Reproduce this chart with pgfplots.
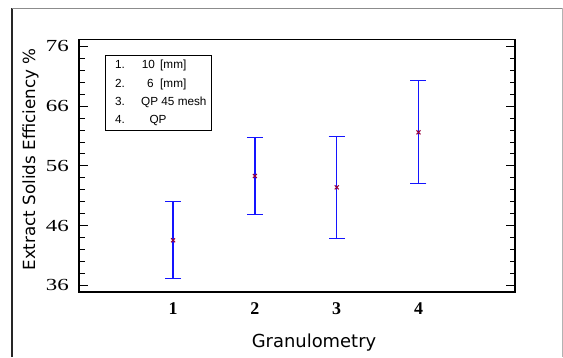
\documentclass[border=0pt]{standalone}
\usepackage{fontspec}
\setmainfont{Liberation Serif}
\newfontfamily\labfont{DejaVu Sans}
\newfontfamily\legfont{Liberation Sans}
\newfontfamily\tickfont{Liberation Serif}
\usepackage{graphicx}
\usepackage{pgfplots}
\pgfplotsset{compat=1.18}
\definecolor{ebblue}{RGB}{20,20,255}
\definecolor{mk}{RGB}{150,0,60}
\begin{document}
\begin{tikzpicture}[x=1bp,y=1bp]
\useasboundingbox (0,0) rectangle (563,357);
% outer frame
\draw[black!85, line width=1.6bp] (11.7,0) -- (11.7,348.7);
\draw[black!45, line width=1.2bp] (11.7,348.7) -- (562,348.7);
\draw[black!30, line width=1bp] (562,348.7) -- (562,0);
\begin{axis}[
  at={(79bp,65bp)}, anchor=south west,
  scale only axis, width=436bp, height=252.3bp,
  xmin=-0.15, xmax=5.18, ymin=34.9, ymax=77.1,
  xtick={1,2,3,4},
  ytick={36,46,56,66,76},
  minor y tick num=4,
  tick align=inside,
  ytick pos=both,
  x tick style={draw=none},
  major tick length=9bp, minor tick length=5.5bp,
  y tick style={black, line width=0.8bp},
  axis line style={black, line width=1.2bp},
  /pgf/number format/assume math mode=true,
  yticklabel={\tickfont\scalebox{1.35}[1]{\tickfont\pgfmathprintnumber{\tick}}},
  yticklabel style={font=\tickfont\fontsize{17}{17}\selectfont, anchor=east, inner sep=0pt, xshift=-10bp},
  xticklabel style={font=\tickfont\fontsize{18}{18}\selectfont\bfseries, anchor=north, inner sep=0pt, yshift=-10bp},
  xlabel={Granulometry},
  ylabel={Extract Solids Efficiency \%},
  xlabel style={font=\labfont\fontsize{18}{18}\selectfont, at={(axis description cs:0.539,-0.218)}, anchor=base, inner sep=0pt},
  ylabel style={font=\labfont\fontsize{16.8}{16.8}\selectfont, at={(axis description cs:-0.111,0.525)}, anchor=center, rotate=0, inner sep=0pt},
  clip=false,
]
\addplot[only marks, mark=x, mark size=2.8bp, mk, line width=1.1bp,
  error bars/.cd, y dir=both, y explicit,
  error bar style={ebblue, line width=1.3bp},
  error mark options={rotate=90, ebblue, mark size=8bp, line width=1.3bp}]
coordinates {
  (1,43.55) += (0,6.45) -= (0,6.38)
  (2,54.30) += (0,6.41) -= (0,6.42)
  (3,52.40) += (0,8.54) -= (0,8.53)
  (4,61.60) += (0,8.65) -= (0,8.53)
};
\end{axis}
% legend box
\draw[black, line width=1bp] (105,227) rectangle (211,302);
\begin{scope}[every node/.style={inner sep=0pt, anchor=base west, font=\legfont\fontsize{11.8}{11.8}\selectfont}]
\node at (115,288.2) {1.};
\node at (141.7,288.2) {10};
\node at (160,288.2) {[mm]};
\node at (115,269.8) {2.};
\node at (147,269.8) {6};
\node at (160,269.8) {[mm]};
\node at (115,251.5) {3.};
\node at (141,251.5) {QP 45 mesh};
\node at (115,233.5) {4.};
\node at (149.3,233.5) {QP};
\end{scope}
\end{tikzpicture}
\end{document}
